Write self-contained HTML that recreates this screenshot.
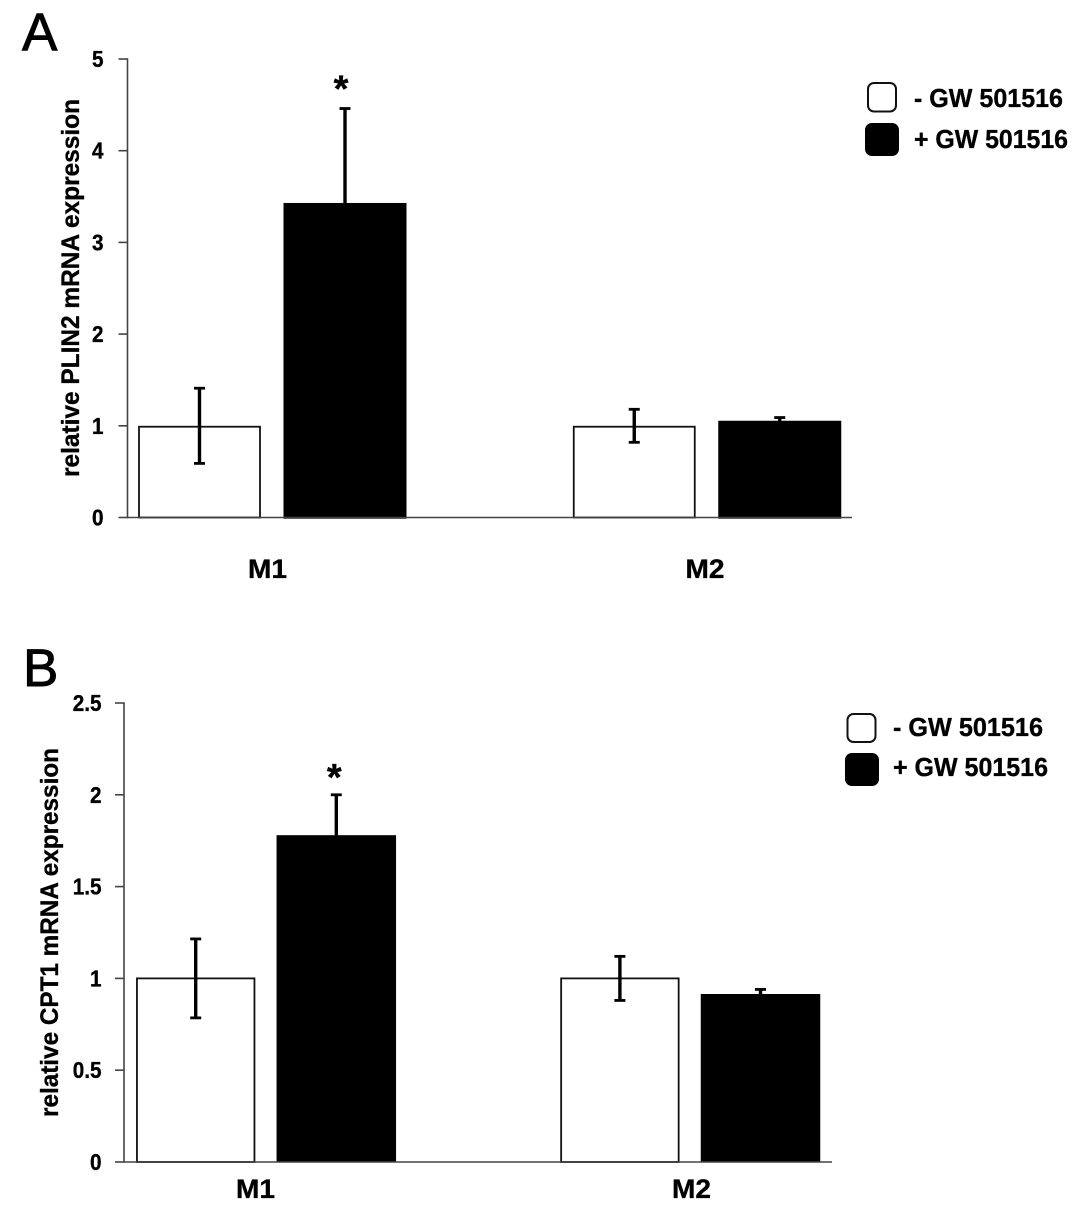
<!DOCTYPE html>
<html lang="en">
<head>
<meta charset="utf-8">
<title>PLIN2 and CPT1 mRNA expression</title>
<style>
html,body{margin:0;padding:0;background:#fff;}
svg{display:block;}
text{font-family:"Liberation Sans",sans-serif;fill:#000;}
.b{font-weight:bold;stroke:#000;stroke-width:0.35px;}
.l{stroke:#000;stroke-width:0.9px;}
</style>
</head>
<body>
<svg id="figure" xmlns="http://www.w3.org/2000/svg" width="1087" height="1218" viewBox="0 0 1087 1218">
  <rect x="0" y="0" width="1087" height="1218" fill="#fff"/>

  <g id="panelA">
    <text class="l" x="22" y="50" font-size="53">A</text>
    <text class="b" transform="translate(79,477) rotate(-90)" font-size="25" textLength="378" lengthAdjust="spacingAndGlyphs">relative PLIN2 mRNA expression</text>
    <g>
      <rect x="868" y="83" width="28" height="28.5" rx="6" fill="#fff" stroke="#111" stroke-width="2"/>
      <rect x="865" y="123" width="34" height="33" rx="7" fill="#000"/>
      <text class="b" x="914" y="107" font-size="26" textLength="149" lengthAdjust="spacingAndGlyphs">- GW 501516</text>
      <text class="b" x="914" y="148" font-size="26" textLength="154" lengthAdjust="spacingAndGlyphs">+ GW 501516</text>
    </g>
  </g>

  <g id="panelB">
    <text class="l" x="23" y="686" font-size="53">B</text>
    <text class="b" transform="translate(58,1117) rotate(-90)" font-size="25" textLength="369" lengthAdjust="spacingAndGlyphs">relative CPT1 mRNA expression</text>
    <g>
      <rect x="847.5" y="714" width="28" height="28" rx="6" fill="#fff" stroke="#111" stroke-width="2"/>
      <rect x="845" y="753" width="34" height="33" rx="7" fill="#000"/>
      <text class="b" x="893" y="736" font-size="26" textLength="150" lengthAdjust="spacingAndGlyphs">- GW 501516</text>
      <text class="b" x="893" y="776" font-size="26" textLength="155" lengthAdjust="spacingAndGlyphs">+ GW 501516</text>
    </g>
  </g>
</svg>

<script>
// Shared categories
const categories = ['M1', 'M2'];

// Panel A: PLIN2 (order: M1, M2)
const plin2Ticks = [0, 1, 2, 3, 4, 5];
const plin2TickLabels = ['0', '1', '2', '3', '4', '5'];
const plin2Control = [0.99, 0.99];
const plin2Treated = [3.43, 1.055];
const plin2ControlHigh = [1.41, 1.18];
const plin2ControlLow = [0.59, 0.82];
const plin2TreatedHigh = [4.46, 1.09];
const plin2TreatedLow = [2.38, 1.01];
const plin2Significant = [true, false];

// Panel B: CPT1 (order: M1, M2)
const cpt1Ticks = [0, 0.5, 1, 1.5, 2, 2.5];
const cpt1TickLabels = ['0', '0.5', '1', '1.5', '2', '2.5'];
const cpt1Control = [1, 1];
const cpt1Treated = [1.78, 0.915];
const cpt1ControlHigh = [1.215, 1.12];
const cpt1ControlLow = [0.785, 0.88];
const cpt1TreatedHigh = [2.0, 0.94];
const cpt1TreatedLow = [1.56, 0.89];
const cpt1Significant = [true, false];

const SVG_NS = 'http://www.w3.org/2000/svg';

function drawPanel(parent, layout, series) {
  const yScale = function (v) {
    return layout.yZero - (v / series.yMax) * (layout.yZero - layout.yTop);
  };
  const groupCenter = function (i) {
    return layout.groupStart + i * layout.groupStep;
  };
  const drawLine = function (target, x1, y1, x2, y2, color, width, name) {
    const line = document.createElementNS(SVG_NS, 'line');
    
    
    line.setAttribute('x1', x1);
    line.setAttribute('y1', y1);
    line.setAttribute('x2', x2);
    line.setAttribute('y2', y2);
    line.setAttribute('stroke', color);
    line.setAttribute('stroke-width', width);
    target.appendChild(line);
  };

  // Bars and error bars
  categories.forEach(function (cat, i) {
    const c = groupCenter(i);
    const cx0 = c - layout.barOffset;
    const cx1 = c + layout.barOffset;
    const base = yScale(0);

    const ctrl = document.createElementNS(SVG_NS, 'rect');
    
    
    ctrl.setAttribute('x', cx0 - layout.whiteW / 2);
    ctrl.setAttribute('y', yScale(series.control[i]));
    ctrl.setAttribute('width', layout.whiteW);
    ctrl.setAttribute('height', base - yScale(series.control[i]));
    ctrl.setAttribute('fill', '#fff');
    ctrl.setAttribute('stroke', '#111');
    ctrl.setAttribute('stroke-width', '1.8');
    parent.appendChild(ctrl);

    const trt = document.createElementNS(SVG_NS, 'rect');
    
    
    trt.setAttribute('x', cx1 - layout.blackW / 2);
    trt.setAttribute('y', yScale(series.treated[i]));
    trt.setAttribute('width', layout.blackW);
    trt.setAttribute('height', base - yScale(series.treated[i]) + layout.blackExtra);
    trt.setAttribute('fill', '#000');
    parent.appendChild(trt);

    const errors = [
      [cx0, series.controlHigh[i], series.controlLow[i]],
      [cx1, series.treatedHigh[i], series.treatedLow[i]]
    ];
    errors.forEach(function (e) {
      const yHi = yScale(e[1]);
      const yLo = yScale(e[2]);
      drawLine(parent, e[0], yHi, e[0], yLo, '#000', 3.4, 'error-bar');
      drawLine(parent, e[0] - 5.5, yHi, e[0] + 5.5, yHi, '#000', 2.8, 'error-cap-high');
      drawLine(parent, e[0] - 5.5, yLo, e[0] + 5.5, yLo, '#000', 2.8, 'error-cap-low');
    });

    if (series.significant[i]) {
      const star = document.createElementNS(SVG_NS, 'text');
      
      
      star.setAttribute('class', 'b');
      star.setAttribute('x', cx1 - layout.starDx);
      star.setAttribute('y', yScale(series.treatedHigh[i]) - layout.starGap);
      star.setAttribute('font-size', '38');
      star.setAttribute('text-anchor', 'middle');
      star.textContent = '*';
      parent.appendChild(star);
    }

    const label = document.createElementNS(SVG_NS, 'text');
    
    
    label.setAttribute('class', 'b');
    label.setAttribute('x', layout.labelStart + i * layout.labelStep);
    label.setAttribute('y', layout.labelY);
    label.setAttribute('font-size', '27');
    label.setAttribute('text-anchor', 'middle');
    label.setAttribute('textLength', '39');
    label.setAttribute('lengthAdjust', 'spacingAndGlyphs');
    label.textContent = cat;
    parent.appendChild(label);
  });

  // Axes
  drawLine(parent, layout.axisX, yScale(series.yMax) - 0.7, layout.axisX, yScale(0) + 0.7, '#444', 1.6, 'y-axis');
  drawLine(parent, layout.axisX, yScale(0), layout.axisEnd, yScale(0), '#444', 1.6, 'x-axis');

  series.ticks.forEach(function (t, i) {
    const y = yScale(t);
    drawLine(parent, layout.axisX - 9, y, layout.axisX, y, '#444', 1.6, 'y-axis-tick');
    const tick = document.createElementNS(SVG_NS, 'text');
    
    
    tick.setAttribute('class', 'b');
    tick.setAttribute('x', layout.tickLabelX);
    tick.setAttribute('y', y + 8);
    tick.setAttribute('font-size', '23');
    tick.setAttribute('text-anchor', 'end');
    tick.textContent = series.tickLabels[i];
    parent.appendChild(tick);
    tick.setAttribute('textLength', tick.getComputedTextLength() * 0.9);
    tick.setAttribute('lengthAdjust', 'spacingAndGlyphs');
  });
}

drawPanel(document.getElementById('panelA'), {
  yZero: 517.5, yTop: 59, axisX: 127.5, axisEnd: 852,
  groupStart: 272.25, groupStep: 434.75, barOffset: 72.75,
  whiteW: 121, blackW: 123, blackExtra: 1.2,
  starDx: 4, starGap: 7, labelStart: 267.5, labelStep: 437.5, labelY: 578, tickLabelX: 103.5
}, {
  yMax: 5, ticks: plin2Ticks, tickLabels: plin2TickLabels,
  control: plin2Control, treated: plin2Treated,
  controlHigh: plin2ControlHigh, controlLow: plin2ControlLow,
  treatedHigh: plin2TreatedHigh, treatedLow: plin2TreatedLow,
  significant: plin2Significant
});

drawPanel(document.getElementById('panelB'), {
  yZero: 1162, yTop: 703, axisX: 124, axisEnd: 832,
  groupStart: 266, groupStep: 424.2, barOffset: 70.3,
  whiteW: 117.5, blackW: 119.5, blackExtra: 0,
  starDx: 2, starGap: 5, labelStart: 255.5, labelStep: 436, labelY: 1198, tickLabelX: 101.5
}, {
  yMax: 2.5, ticks: cpt1Ticks, tickLabels: cpt1TickLabels,
  control: cpt1Control, treated: cpt1Treated,
  controlHigh: cpt1ControlHigh, controlLow: cpt1ControlLow,
  treatedHigh: cpt1TreatedHigh, treatedLow: cpt1TreatedLow,
  significant: cpt1Significant
});
</script>
</body>
</html>
